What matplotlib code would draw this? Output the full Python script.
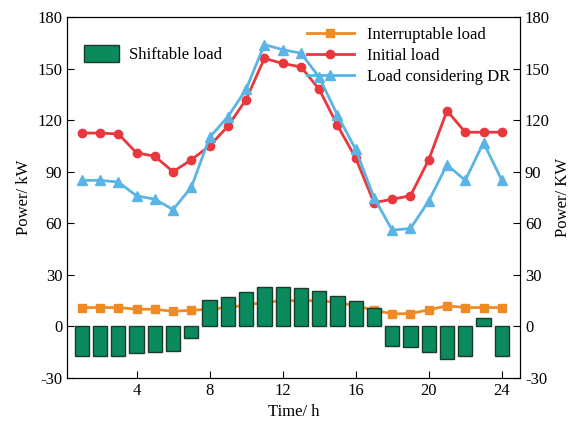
import numpy as np
import matplotlib.pyplot as plt
from matplotlib.patches import Patch

hours = np.arange(1, 25)
initial_load = [112.5, 112.5, 112, 101, 99, 90, 97, 105, 116.5, 132, 156, 153,
                151, 138, 117, 98, 72, 74, 76, 97, 125.5, 113, 113, 113]
dr_load = [85, 85, 84, 76, 74, 68, 81, 110, 122, 138, 164, 161,
           159, 145, 123, 103, 75, 56, 57, 73, 94, 85, 107, 85]
interruptable = [11, 11, 11, 10, 10, 8.8, 9.4, 10, 11, 12.5, 14, 15,
                 15, 15, 14, 12, 9.5, 7.3, 7.5, 9.7, 12, 11, 11, 11]
shiftable = [-17, -17, -17, -15.5, -15, -14, -6.7, 15.5, 17.3, 19.8, 23.1, 22.7,
             22.5, 20.5, 17.5, 14.8, 10.5, -11.4, -11.8, -15, -19.2, -17.2, 4.7, -17.2]

plt.rcParams['font.family'] = ['Liberation Serif', 'DejaVu Serif']
plt.rcParams['font.size'] = 12
plt.rcParams['axes.unicode_minus'] = False

fig = plt.figure(figsize=(5.74, 4.37), dpi=100)
ax = fig.add_axes([0.117, 0.135, 0.789, 0.826])

ax.bar(hours, shiftable, width=0.78, color='#0b8a5e', edgecolor='#1a3a2a',
       linewidth=1.0, zorder=3)
l1, = ax.plot(hours, interruptable, color='#f08a24', marker='s', markersize=6,
              linewidth=2, zorder=2, label='Interruptable load')
l2, = ax.plot(hours, initial_load, color='#e8383d', marker='o', markersize=6,
              linewidth=2, zorder=4, label='Initial load')
l3, = ax.plot(hours, dr_load, color='#5ab4e5', marker='^', markersize=7,
              linewidth=2, zorder=4, label='Load considering DR')

ax.set_xlim(0.2, 25)
ax.set_ylim(-30, 180)
ax.set_xticks([4, 8, 12, 16, 20, 24])
ax.set_yticks(np.arange(-30, 181, 30))
ax.tick_params(direction='in', length=5, top=False, right=False)
ax.set_xlabel('Time/ h')
ax.set_ylabel('Power/ kW')

ax2 = ax.twinx()
ax2.set_ylim(-30, 180)
ax2.set_yticks(np.arange(-30, 181, 30))
ax2.tick_params(direction='in', length=5)
ax2.set_ylabel('Power/ KW', labelpad=4)

leg1 = ax.legend(handles=[Patch(facecolor='#0b8a5e', edgecolor='#1a3a2a')],
                 labels=['Shiftable load'], loc='upper left',
                 bbox_to_anchor=(0.005, 0.965), frameon=False,
                 handlelength=2.1, handleheight=1.2, handletextpad=0.6)
ax.add_artist(leg1)
ax.legend(handles=[l1, l2, l3], loc='upper right', frameon=False,
          handlelength=2.8, borderaxespad=0.2, labelspacing=0.3)

fig.savefig('out.png', dpi=100)
